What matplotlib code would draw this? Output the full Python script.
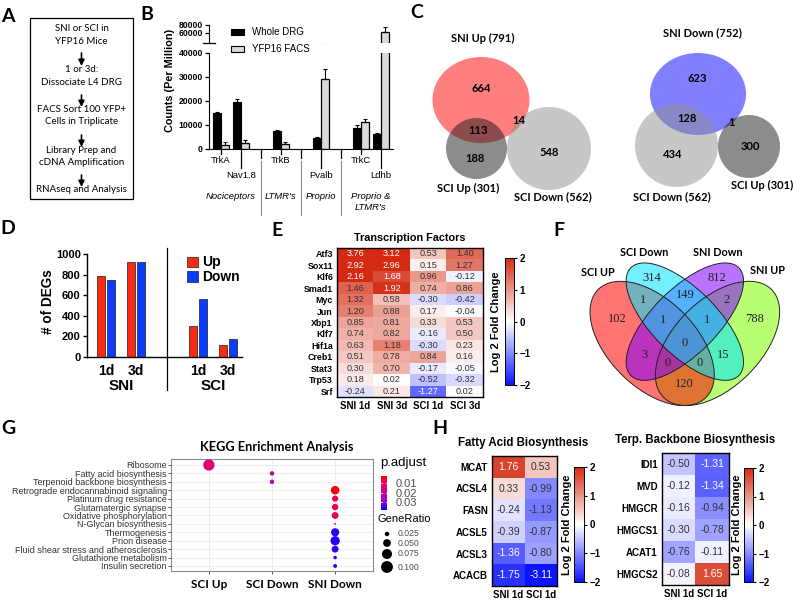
import numpy as np
import matplotlib
matplotlib.use("Agg")
import matplotlib.pyplot as plt
import matplotlib.transforms as mtransforms
from matplotlib.patches import Ellipse, Rectangle
from matplotlib.colors import LinearSegmentedColormap

plt.rcParams["font.family"] = ["Liberation Sans", "DejaVu Sans"]
CAL = ["Lato", "DejaVu Sans"]          # stand-in for Calibri
SERIF = ["Liberation Serif", "DejaVu Serif"]

W, H = 793, 600

# ---------------- data ----------------
# A: workflow
workflow_steps = ["SNI or SCI in\nYFP16 Mice", "1 or 3d:\nDissociate L4 DRG",
                  "FACS Sort 100 YFP+\nCells in Triplicate",
                  "Library Prep and\ncDNA Amplification", "RNAseq and Analysis"]

# B: marker genes, counts per million
b_genes = ["TrkA", "Nav1.8", "TrkB", "Pvalb", "TrkC", "Ldhb"]
b_whole = [15000, 19600, 7600, 4400, 8800, 6200]
b_whole_err = [400, 1100, 500, 400, 1000, 400]
b_facs = [1500, 2300, 1900, 29000, 11300, 62500]
b_facs_err = [1400, 1300, 1000, 4500, 1100, 12500]
b_groups = ["Nociceptors", "LTMR's", "Proprio", "Proprio &\nLTMR's"]
b_gene_group = [0, 0, 1, 2, 3, 3]

# C: three-way overlaps
vennC1_names = ["SNI Up (791)", "SCI Up (301)", "SCI Down (562)"]
vennC1_counts = [664, 113, 14, 188, 548]
vennC2_names = ["SNI Down (752)", "SCI Down (562)", "SCI Up (301)"]
vennC2_counts = [623, 128, 1, 434, 300]

# D: number of DEGs
deg_days = ["1d", "3d", "1d", "3d"]
deg_injury = ["SNI", "SNI", "SCI", "SCI"]
deg_up = [791, 925, 301, 120]
deg_down = [752, 920, 562, 170]

# E: transcription factors, log2 fold change
tf_genes = ["Atf3", "Sox11", "Klf6", "Smad1", "Myc", "Jun", "Xbp1", "Klf7",
            "Hif1a", "Creb1", "Stat3", "Trp53", "Srf"]
tf_cols = ["SNI 1d", "SNI 3d", "SCI 1d", "SCI 3d"]
tf_lfc = [[3.76, 3.12, 0.53, 1.40],
          [2.92, 2.96, 0.15, 1.27],
          [2.16, 1.68, 0.96, -0.12],
          [1.46, 1.92, 0.74, 0.86],
          [1.32, 0.58, -0.30, -0.42],
          [1.20, 0.88, 0.17, -0.04],
          [0.85, 0.81, 0.33, 0.53],
          [0.74, 0.82, -0.16, 0.50],
          [0.63, 1.18, -0.30, 0.23],
          [0.51, 0.78, 0.84, 0.16],
          [0.30, 0.70, -0.17, -0.05],
          [0.18, 0.02, -0.52, -0.32],
          [-0.24, 0.21, -1.27, 0.02]]

# F: four-way overlaps
quad_names = ["SCI UP", "SCI Down", "SNI Down", "SNI UP"]
quad_counts = [102, 314, 812, 788, 1, 149, 2, 1, 1, 0, 3, 15, 0, 0, 120]

# G: KEGG enrichment
kegg_terms = ["Ribosome", "Fatty acid biosynthesis", "Terpenoid backbone biosynthesis",
              "Retrograde endocannabinoid signaling", "Platinum drug resistance",
              "Glutamatergic synapse", "Oxidative phosphorylation", "N-Glycan biosynthesis",
              "Thermogenesis", "Prion disease", "Fluid shear stress and atherosclerosis",
              "Glutathione metabolism", "Insulin secretion"]
kegg_sets = ["SCI Up", "SCI Down", "SNI Down"]
kegg_group = ["SCI Up", "SCI Down", "SCI Down"] + ["SNI Down"] * 10
kegg_ratio = [0.092, 0.025, 0.025, 0.058, 0.036, 0.038, 0.042, 0.012,
              0.054, 0.066, 0.042, 0.020, 0.022]
kegg_padj = [0.014, 0.022, 0.022, 0.004, 0.008, 0.009, 0.010, 0.027,
             0.036, 0.036, 0.035, 0.036, 0.035]
ratio_breaks = [0.025, 0.050, 0.075, 0.100]

# H: pathway genes
fa_genes = ["MCAT", "ACSL4", "FASN", "ACSL5", "ACSL3", "ACACB"]
fa_lfc = [[1.76, 0.53], [0.33, -0.99], [-0.24, -1.13],
          [-0.39, -0.87], [-1.36, -0.80], [-1.75, -3.11]]
terp_genes = ["IDI1", "MVD", "HMGCR", "HMGCS1", "ACAT1", "HMGCS2"]
terp_lfc = [[-0.50, -1.31], [-0.12, -1.34], [-0.16, -0.94],
            [-0.30, -0.78], [-0.76, -0.11], [-0.08, 1.65]]
h_cols = ["SNI 1d", "SCI 1d"]

# ---------------- figure ----------------
fig = plt.figure(figsize=(W / 100, H / 100), dpi=100)


def px_axes(x0, y0, x1, y1):
    """Axes placed by pixel box (top-left origin)."""
    return fig.add_axes([x0 / W, 1 - y1 / H, (x1 - x0) / W, (y1 - y0) / H])


ov = px_axes(0, 0, W, H)
ov.set_xlim(0, W)
ov.set_ylim(H, 0)
ov.axis("off")
ov.set_zorder(5)

letters = {"A": (8, 16), "B": (147, 15), "C": (417, 13), "D": (8, 229),
           "E": (277, 230), "F": (559, 230), "G": (8, 428), "H": (440, 428)}
for k, (x, y) in letters.items():
    ov.text(x, y, k, family=CAL, weight="bold", fontsize=14, ha="center", va="center")

# ---- A ----
ov.add_patch(Rectangle((30, 18), 103, 181, fill=False, lw=0.9, ec="k"))
step_y = [35, 76, 115.5, 156.5, 189]
for txt, y in zip(workflow_steps, step_y):
    ov.text(81.5, y, txt, family=CAL, fontsize=7, ha="center", va="center", linespacing=1.45)
for y0, y1 in [(53, 66), (95, 107), (135, 147), (175, 187)]:
    ov.annotate("", xy=(81.5, y1), xytext=(81.5, y0),
                arrowprops=dict(arrowstyle="-|>,head_length=0.5,head_width=0.25",
                                lw=1.2, color="k", mutation_scale=7, shrinkA=0, shrinkB=0))

# ---- B (broken y axis: lower and upper segment) ----
b_pos = np.array([0, 1, 3, 5, 7, 8])
axb = px_axes(209, 53, 393, 149)
axb_top = px_axes(209, 22, 393, 43)
for ax in (axb, axb_top):
    ax.bar(b_pos - 0.2, b_whole, 0.37, color="black", edgecolor="black", lw=0.8,
           yerr=[np.zeros(6), b_whole_err], error_kw=dict(lw=0.8, capsize=1.6, capthick=0.8))
    ax.bar(b_pos + 0.2, b_facs, 0.37, color="#d9d9d9", edgecolor="black", lw=0.9,
           yerr=[np.zeros(6), b_facs_err], error_kw=dict(lw=0.8, capsize=1.6, capthick=0.8))
    ax.set_xlim(-0.6, 8.6)
    ax.set_xticks([])
    ax.set_facecolor("none")
    for s in ("top", "right"):
        ax.spines[s].set_visible(False)
    ax.tick_params(axis="y", length=3, width=0.9, labelsize=6.2, pad=1.5)
axb.set_ylim(0, 40000)
axb.set_yticks([0, 10000, 20000, 30000, 40000])
axb_top.set_ylim(35000, 87500)
axb_top.set_yticks([60000, 80000])
axb_top.spines["bottom"].set_visible(False)
axb_top.spines["left"].set_bounds(35000, 80000)
for ax in (axb, axb_top):
    for t in ax.get_yticklabels():
        t.set_fontweight("bold")
axb_top.plot([-0.03, 0.03], [0, 0], transform=axb_top.transAxes, color="k", lw=0.9, clip_on=False)

tb = mtransforms.blended_transform_factory(axb.transData, axb.transAxes)
for i, (g, x) in enumerate(zip(b_genes, b_pos)):
    low = i % 2 == 1
    axb.plot([x, x], [0, -19 / 96 if low else -5 / 96], transform=tb, color="k", lw=0.9, clip_on=False)
    axb.text(x, -0.28 if low else -0.115, g, transform=tb, ha="center", va="center", fontsize=6.8)
for xs in (2, 4, 6):
    axb.plot([xs, xs], [0, -0.09], transform=tb, color="k", lw=0.9, clip_on=False)
    axb.plot([xs, xs], [-0.13, -0.69], transform=tb, color="#8c8c8c", lw=0.8, clip_on=False)
for gi, name in enumerate(b_groups):
    gx = np.mean([x for x, g in zip(b_pos, b_gene_group) if g == gi])
    axb.text(gx, -(192 - 149) / 96, name, transform=tb, ha="center", va="top",
             fontsize=6.8, style="italic", linespacing=1.25)
ov.text(170, 80, "Counts (Per Million)", rotation=90, ha="center", va="center",
        fontsize=7.8, weight="bold")
ov.add_patch(Rectangle((231, 29), 13, 6, fc="black", ec="black", lw=0.8))
ov.add_patch(Rectangle((231, 46), 13, 6, fc="#d9d9d9", ec="black", lw=0.8))
ov.text(252, 32, "Whole DRG", fontsize=7, va="center")
ov.text(252, 49, "YFP16 FACS", fontsize=7, va="center")

# ---- C ----
c1_shapes = [((481, 100), 48.5, 43, "#ff0000"), ((476.5, 148.5), 30.5, 30.5, "#1a1a1a"),
             ((549, 148.5), 42, 41.5, "#919191")]
c1_name_xy = [(483, 38), (468, 188), (553, 197)]
c1_count_xy = [(481, 88), (478, 130), (519, 121), (475, 159), (549, 152)]
c2_shapes = [((698, 94), 48, 41, "#0000ff"), ((676.5, 145.5), 41.5, 41.5, "#919191"),
             ((749, 146.5), 31, 31.5, "#1a1a1a")]
c2_name_xy = [(702, 33), (672, 197), (762, 185)]
c2_count_xy = [(697, 78), (687, 119), (732, 122), (673, 155), (750, 147)]
for shapes, names, name_xy, counts, count_xy in [
        (c1_shapes, vennC1_names, c1_name_xy, vennC1_counts, c1_count_xy),
        (c2_shapes, vennC2_names, c2_name_xy, vennC2_counts, c2_count_xy)]:
    for (cx, cy), rx, ry, col in shapes:
        ov.add_patch(Ellipse((cx, cy), 2 * rx, 2 * ry, fc=col, alpha=0.5, lw=0))
    for n, (x, y) in zip(names, name_xy):
        ov.text(x, y, n, family=CAL, weight="bold", fontsize=8, ha="center", va="center")
    for c, (x, y) in zip(counts, count_xy):
        ov.text(x, y, str(c), family=CAL, weight="bold", fontsize=8, ha="center", va="center")

# ---- D ----
deg_x = np.array([0, 1, 3.07, 4.07])
red, blue = "#ff2a14", "#0a3cff"
axd = px_axes(87, 254, 242, 357)
axd.bar(deg_x - 0.165, deg_up, 0.28, color=red, edgecolor="#333333", lw=0.6)
axd.bar(deg_x + 0.165, deg_down, 0.28, color=blue, edgecolor="#333333", lw=0.6)
axd.set_xlim(-0.63, 4.53)
axd.set_ylim(0, 1000)
axd.set_yticks(range(0, 1001, 200))
for s in ("top", "right"):
    axd.spines[s].set_visible(False)
for s in ("left", "bottom"):
    axd.spines[s].set_linewidth(1.0)
axd.tick_params(axis="y", length=3, width=1, labelsize=8, pad=1.5)
axd.set_xticks(deg_x)
axd.set_xticklabels(deg_days)
axd.tick_params(axis="x", length=0, labelsize=10, pad=5)
for t in axd.get_xticklabels() + axd.get_yticklabels():
    t.set_fontweight("bold")
td = mtransforms.blended_transform_factory(axd.transData, axd.transAxes)
for inj in ("SNI", "SCI"):
    mx = np.mean([x for x, g in zip(deg_x, deg_injury) if g == inj])
    axd.text(mx, -0.28, inj, transform=td, ha="center", va="center", fontsize=11, weight="bold")
sep = (deg_x[1] + deg_x[2]) / 2
axd.plot([sep, sep], [1.06, -0.32], transform=td, color="k", lw=0.9, clip_on=False)
ov.text(48, 302, "# of DEGs", rotation=90, ha="center", va="center", fontsize=9.8, weight="bold")
ov.add_patch(Rectangle((187, 257), 11, 10, fc=red, ec="#333333", lw=0.6))
ov.add_patch(Rectangle((187, 271), 11, 11, fc=blue, ec="#333333", lw=0.6))
ov.text(202, 262, "Up", fontsize=10, weight="bold", va="center")
ov.text(202, 277, "Down", fontsize=10, weight="bold", va="center")

# ---- heatmap helper (E, H) ----
lfc_cmap = LinearSegmentedColormap.from_list("lfc", ["#0a14ff", "#ffffff", "#d42a12"])


def heatmap(ax, vals, rows, cols, fs_val, fs_row, fs_col):
    vals = np.array(vals)
    im = ax.imshow(vals, cmap=lfc_cmap, vmin=-2, vmax=2, aspect="auto", interpolation="nearest")
    for r in range(vals.shape[0]):
        for c in range(vals.shape[1]):
            v = vals[r, c]
            tc = "white" if (v >= 1.6 or v <= -1.2) else "#333333"
            ax.text(c, r, f"{v:.2f}", ha="center", va="center", fontsize=fs_val, color=tc)
    ax.set_yticks(range(len(rows)))
    ax.set_yticklabels(rows, fontsize=fs_row, weight="bold")
    ax.set_xticks(range(len(cols)))
    ax.set_xticklabels(cols, fontsize=fs_col, weight="bold")
    ax.tick_params(length=0, pad=3)
    for s in ax.spines.values():
        s.set_linewidth(1.0)
    return im


def lfc_bar(im, cax, label_dx):
    cb = fig.colorbar(im, cax=cax, ticks=[-2, -1, 0, 1, 2])
    cb.outline.set_linewidth(0.7)
    cax.tick_params(length=2.5, width=0.8, labelsize=7, pad=1.5)
    for t in cax.get_yticklabels():
        t.set_fontweight("bold")
    cax.text(label_dx, 0.5, "Log 2 Fold Change", rotation=90, transform=cax.transAxes,
             ha="center", va="center", fontsize=8, weight="bold")


# ---- E ----
axe = px_axes(337, 248, 483, 397)
im_e = heatmap(axe, tf_lfc, tf_genes, tf_cols, 6.6, 6.4, 7)
axe.set_title("Transcription Factors", fontsize=7.8, weight="bold", pad=5)
lfc_bar(im_e, px_axes(505, 258, 514, 385), -0.95)

# ---- F ----
quad_ellipses = [(0.35, 0.47, 0.35, 0.20, 135), (0.50, 0.57, 0.35, 0.15, 135),
                 (0.50, 0.57, 0.35, 0.15, 45), (0.65, 0.47, 0.35, 0.20, 45)]
quad_colors = ["#ff0000", "#00e5ff", "#8000ff", "#80ff00"]
quad_order = [3, 0, 2, 1]
quad_name_xy = [(598, 272), (644, 253), (718, 252), (767, 271)]
quad_count_xy = [(617, 319), (652, 278), (717, 278), (755, 319), (643, 300), (685, 295),
                 (727, 300), (663, 320), (707, 320), (685, 343), (645, 355), (723, 355),
                 (668, 363), (700, 363), (684, 384)]


def vpx(x, y):
    return 590 + (x - 0.065) * 218, 263 + (0.839 - y) * 218


for i in quad_order:
    x, y, a, b, rot = quad_ellipses[i]
    ov.add_patch(Ellipse(vpx(x, y), 2 * a * 218, 2 * b * 218, angle=-rot,
                         fc=quad_colors[i], alpha=0.55, lw=0))
for i in range(4):
    x, y, a, b, rot = quad_ellipses[i]
    ov.add_patch(Ellipse(vpx(x, y), 2 * a * 218, 2 * b * 218, angle=-rot,
                         fill=False, ec="#222222", lw=0.7))
for n, (x, y) in zip(quad_names, quad_name_xy):
    ov.text(x, y, n, family=CAL, weight="bold", fontsize=7.8, ha="center", va="center")
for c, (x, y) in zip(quad_counts, quad_count_xy):
    ov.text(x, y, str(c), family=SERIF, fontsize=9, ha="center", va="center", color="#222222")

# ---- G ----
padj_cmap = LinearSegmentedColormap.from_list(
    "padj", ["#ff0000", "#e4006a", "#c5009a", "#9a00d4", "#0000ff"])
pmin, pmax = 0.003, 0.038


def dot_size(gr):
    d = np.sqrt(np.clip(1600 * np.asarray(gr) - 20, 3, None))  # diameter in px
    return (d * 0.72) ** 2


axg = px_axes(171, 459, 373, 571)
gx = [kegg_sets.index(g) + 1 for g in kegg_group]
axg.scatter(gx, range(len(kegg_terms)), s=dot_size(kegg_ratio), c=kegg_padj,
            cmap=padj_cmap, vmin=pmin, vmax=pmax, lw=0, zorder=3)
axg.set_xlim(0.4, 3.6)
axg.set_ylim(12.6, -0.71)
axg.set_xticks([1, 2, 3])
axg.set_xticklabels(kegg_sets, family=CAL, weight="bold", fontsize=8.5)
axg.set_yticks(range(len(kegg_terms)))
axg.set_yticklabels(kegg_terms, fontsize=6.5, color="#333333")
axg.tick_params(axis="y", length=2, width=0.6, color="#333333", pad=1)
axg.tick_params(axis="x", length=2, width=0.6, color="#333333", pad=4)
axg.grid(True, color="#ebebeb", lw=0.6)
axg.set_axisbelow(True)
for s in axg.spines.values():
    s.set_color("#8c8c8c")
    s.set_linewidth(0.8)
ov.text(277, 447, "KEGG Enrichment Analysis", family=CAL, weight="bold", fontsize=9.2,
        ha="center", va="center")

cax_g = px_axes(381, 476, 387, 510)
grad = np.linspace(pmin, pmax, 100).reshape(-1, 1)
cax_g.imshow(grad, cmap=padj_cmap, vmin=pmin, vmax=pmax, aspect="auto",
             extent=[0, 1, pmax, pmin])
cax_g.set_ylim(pmax, pmin)
cax_g.set_xticks([])
cax_g.yaxis.tick_right()
cax_g.set_yticks([0.01, 0.02, 0.03])
cax_g.set_yticklabels(["0.01", "0.02", "0.03"], fontsize=8, color="#4d4d4d")
cax_g.tick_params(axis="y", length=0, pad=6)
for v in (0.01, 0.02, 0.03):
    cax_g.plot([0, 0.2], [v, v], color="white", lw=0.6)
    cax_g.plot([0.8, 1], [v, v], color="white", lw=0.6)
cax_g.set_xlim(0, 1)
for s in cax_g.spines.values():
    s.set_visible(False)
ov.text(380, 463, "p.adjust", fontsize=9.5, va="center")
ov.text(378, 519, "GeneRatio", fontsize=8, va="center")
leg_y = [534, 543, 554, 567]
ov.scatter([387] * 4, leg_y, s=dot_size(ratio_breaks), color="black", lw=0)
for v, y in zip(ratio_breaks, leg_y):
    ov.text(398, y, f"{v:.3f}", fontsize=6.2, va="center", color="#4d4d4d")

# ---- H ----
axh1 = px_axes(492, 456, 557, 586)
im_h1 = heatmap(axh1, fa_lfc, fa_genes, h_cols, 7.5, 7, 7)
ov.text(523, 443, "Fatty Acid Biosynthesis", fontsize=8.3, weight="bold", ha="center", va="center")
lfc_bar(im_h1, px_axes(574, 467, 584, 582), -0.75)

axh2 = px_axes(662, 453, 729, 585)
im_h2 = heatmap(axh2, terp_lfc, terp_genes, h_cols, 7.5, 7, 7)
ov.text(695, 440, "Terp. Backbone Biosynthesis", fontsize=8.3, weight="bold", ha="center", va="center")
lfc_bar(im_h2, px_axes(744, 468, 753, 582), -0.8)

fig.savefig("out.png", dpi=100)
